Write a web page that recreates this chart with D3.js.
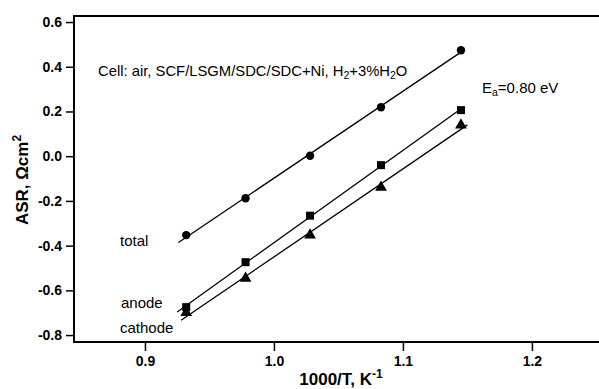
<!DOCTYPE html>
<html>
<head>
<meta charset="utf-8">
<script src="https://cdn.jsdelivr.net/npm/d3@7"></script>
<style>
  html, body { margin: 0; padding: 0; background: #fff; }
  svg { display: block; }
  text { font-family: "Liberation Sans", Arial, Helvetica, sans-serif; fill: #000; }
</style>
</head>
<body>
<svg id="chart" width="599" height="389"></svg>
<script>
// 1000/T (K^-1) for 800, 750, 700, 650, 600 °C
const invT = [0.932, 0.978, 1.028, 1.083, 1.145];
// log ASR values (Ωcm²)
const totalASR   = [-0.353, -0.188, 0.002, 0.219, 0.474];
const anodeASR   = [-0.675, -0.474, -0.266, -0.040, 0.206];
const cathodeASR = [-0.700, -0.546, -0.353, -0.139, 0.139];
// x span of each fitted line
const totalFitSpan   = [0.926, 1.145];
const anodeFitSpan   = [0.925, 1.147];
const cathodeFitSpan = [0.928, 1.150];

const xTicks = [0.9, 1.0, 1.1, 1.2];
const yTicks = [0.6, 0.4, 0.2, 0.0, -0.2, -0.4, -0.6, -0.8];

const svg = d3.select("#chart");
const plotL = 74, plotR = 599, plotT = 16, plotB = 342;

const x = d3.scaleLinear().domain([0.845, 1.252]).range([plotL, plotR]);
const y = d3.scaleLinear().domain([-0.831, 0.627]).range([plotB, plotT]);

// least-squares fit for the Arrhenius lines
function fit(xs, ys) {
  const mx = d3.mean(xs), my = d3.mean(ys);
  let sxy = 0, sxx = 0;
  xs.forEach((v, i) => { sxy += (v - mx) * (ys[i] - my); sxx += (v - mx) * (v - mx); });
  const b = sxy / sxx, a = my - b * mx;
  return v => a + b * v;
}

// tick labels with a plain hyphen for negatives
const fmt = d => d.toFixed(1);

// axes
const xAxis = d3.axisBottom(x).tickValues(xTicks).tickFormat(fmt).tickSizeOuter(0).tickSize(9).tickPadding(5);
const yAxis = d3.axisLeft(y).tickValues(yTicks).tickFormat(fmt).tickSizeOuter(0).tickSize(8).tickPadding(4);

const gx = svg.append("g").attr("transform", `translate(0,${plotB})`).call(xAxis);
const gy = svg.append("g").attr("transform", `translate(${plotL},0)`).call(yAxis);
[gx, gy].forEach(g => {
  g.select(".domain").attr("stroke", "#000").attr("stroke-width", 2);
  g.selectAll(".tick line").attr("stroke", "#000").attr("stroke-width", 1.5);
  g.selectAll(".tick text").attr("font-size", 14).attr("font-weight", "bold")
    .attr("font-family", "Liberation Sans, Arial, sans-serif").attr("fill", "#000");
});
gy.select(".domain").attr("d", `M0,${plotT}V${plotB + 1}`);
gx.select(".domain").attr("d", `M${plotL - 1},0H${plotR}`);

// top frame
svg.append("line").attr("x1", plotL - 1).attr("x2", plotR).attr("y1", plotT).attr("y2", plotT)
  .attr("stroke", "#000").attr("stroke-width", 2);

// axis titles
svg.append("text")
  .attr("transform", `translate(28,${(plotT + plotB) / 2 + 1}) rotate(-90)`)
  .attr("text-anchor", "middle").attr("font-size", 17).attr("font-weight", "bold")
  .text("ASR, Ωcm")
  .append("tspan").attr("dy", -7).attr("font-size", 12).text("2");

const xt = svg.append("text").attr("x", 341).attr("y", 385)
  .attr("text-anchor", "middle").attr("font-size", 17).attr("font-weight", "bold");
xt.append("tspan").text("1000/T, K");
xt.append("tspan").attr("dy", -7).attr("font-size", 12).text("-1");

// fitted lines
const series = [
  { ys: totalASR, span: totalFitSpan, shape: "circle" },
  { ys: anodeASR, span: anodeFitSpan, shape: "square" },
  { ys: cathodeASR, span: cathodeFitSpan, shape: "triangle" }
];
const line = d3.line().x(d => x(d[0])).y(d => y(d[1]));
series.forEach(s => {
  const f = fit(invT, s.ys);
  svg.append("path")
    .attr("d", line(s.span.map(v => [v, f(v)])))
    .attr("fill", "none").attr("stroke", "#000").attr("stroke-width", 1.3);
});

// markers
const sym = {
  circle: d3.symbol().type(d3.symbolCircle).size(55),
  square: d3.symbol().type(d3.symbolSquare).size(64),
  triangle: d3.symbol().type(d3.symbolTriangle).size(60)
};
series.forEach(s => {
  svg.append("g").selectAll("path").data(invT.map((v, i) => [v, s.ys[i]])).join("path")
    .attr("transform", d => `translate(${x(d[0])},${y(d[1])})`)
    .attr("d", sym[s.shape]())
    .attr("fill", "#000");
});

// annotations
const cell = svg.append("text").attr("x", 98).attr("y", 76).attr("font-size", 14.8);
cell.append("tspan").text("Cell: air, SCF/LSGM/SDC/SDC+Ni, H");
cell.append("tspan").attr("dy", 3).attr("font-size", 10.5).text("2");
cell.append("tspan").attr("dy", -3).text("+3%H");
cell.append("tspan").attr("dy", 3).attr("font-size", 10.5).text("2");
cell.append("tspan").attr("dy", -3).text("O");

const ea = svg.append("text").attr("x", 482).attr("y", 93).attr("font-size", 15);
ea.append("tspan").text("E");
ea.append("tspan").attr("dy", 3).attr("font-size", 10.5).text("a");
ea.append("tspan").attr("dy", -3).text("=0.80 eV");

svg.append("text").attr("x", 120).attr("y", 246).attr("font-size", 15).text("total");
svg.append("text").attr("x", 121).attr("y", 308).attr("font-size", 15).text("anode");
svg.append("text").attr("x", 120).attr("y", 333).attr("font-size", 15).text("cathode");
</script>
</body>
</html>
